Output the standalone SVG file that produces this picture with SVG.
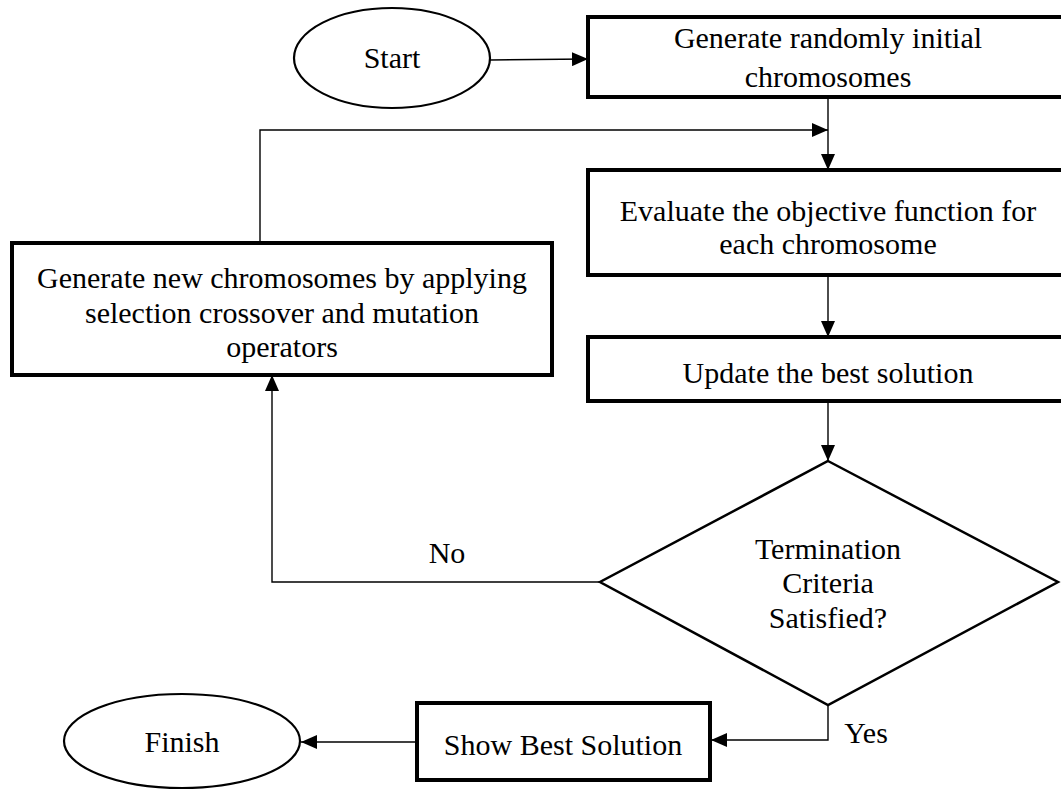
<svg xmlns="http://www.w3.org/2000/svg" width="1061" height="793" viewBox="0 0 1061 793">
<style>
  text { font-family: "Liberation Serif", "Times New Roman", serif; font-size: 30px; fill: #000; text-anchor: middle; dominant-baseline: central; }
  .box { fill: #fff; stroke: #000; stroke-width: 4; }
  .term { fill: #fff; stroke: #000; stroke-width: 2.2; }
  .dec { fill: #fff; stroke: #000; stroke-width: 2.5; }
  .conn { fill: none; stroke: #000; stroke-width: 1.4; }
</style>
<defs>
  <marker id="arrL" viewBox="0 0 16 14" refX="16" refY="7" markerWidth="16" markerHeight="14" markerUnits="userSpaceOnUse" orient="auto">
    <path d="M0,0 L16,7 L0,14 z" fill="#000"/>
  </marker>
</defs>
<rect width="1061" height="793" fill="#fff"/>
<g id="connectors">
  <path class="conn" d="M490,60 L588,59" marker-end="url(#arrL)"/>
  <path class="conn" d="M828,97 L828,170" marker-end="url(#arrL)"/>
  <path class="conn" d="M260,243 L260,130 L828,130" marker-end="url(#arrL)"/>
  <path class="conn" d="M828,275 L828,337" marker-end="url(#arrL)"/>
  <path class="conn" d="M828,401 L828,461" marker-end="url(#arrL)"/>
  <path class="conn" d="M600,582 L272,582 L272,375" marker-end="url(#arrL)"/>
  <path class="conn" d="M828,705 L828,740 L711,740" marker-end="url(#arrL)"/>
  <path class="conn" d="M417,742 L301,742" marker-end="url(#arrL)"/>
  <text x="447" y="552">No</text>
  <text x="866" y="732">Yes</text>
</g>
<g id="start">
  <ellipse class="term" cx="392" cy="58" rx="98" ry="50"/>
  <text x="392" y="57">Start</text>
</g>
<g id="init">
  <rect class="box" x="588" y="17" width="490" height="80"/>
  <text x="828" y="37">Generate randomly initial</text>
  <text x="828" y="76">chromosomes</text>
</g>
<g id="evaluate">
  <rect class="box" x="588" y="170" width="490" height="105"/>
  <text x="828" y="210">Evaluate the objective function for</text>
  <text x="828" y="243">each chromosome</text>
</g>
<g id="update">
  <rect class="box" x="588" y="337" width="490" height="64"/>
  <text x="828" y="372">Update the best solution</text>
</g>
<g id="decision">
  <polygon class="dec" points="828,461 1058,582 828,705 600,582"/>
  <text x="828" y="548">Termination</text>
  <text x="828" y="582">Criteria</text>
  <text x="828" y="617">Satisfied?</text>
</g>
<g id="newgen">
  <rect class="box" x="12" y="243" width="540" height="132"/>
  <text x="282" y="277">Generate new chromosomes by applying</text>
  <text x="282" y="312">selection crossover and mutation</text>
  <text x="282" y="346">operators</text>
</g>
<g id="show">
  <rect class="box" x="417" y="703" width="293" height="77"/>
  <text x="563" y="744">Show Best Solution</text>
</g>
<g id="finish">
  <ellipse class="term" cx="182" cy="741" rx="118" ry="47"/>
  <text x="182" y="741">Finish</text>
</g>
</svg>
